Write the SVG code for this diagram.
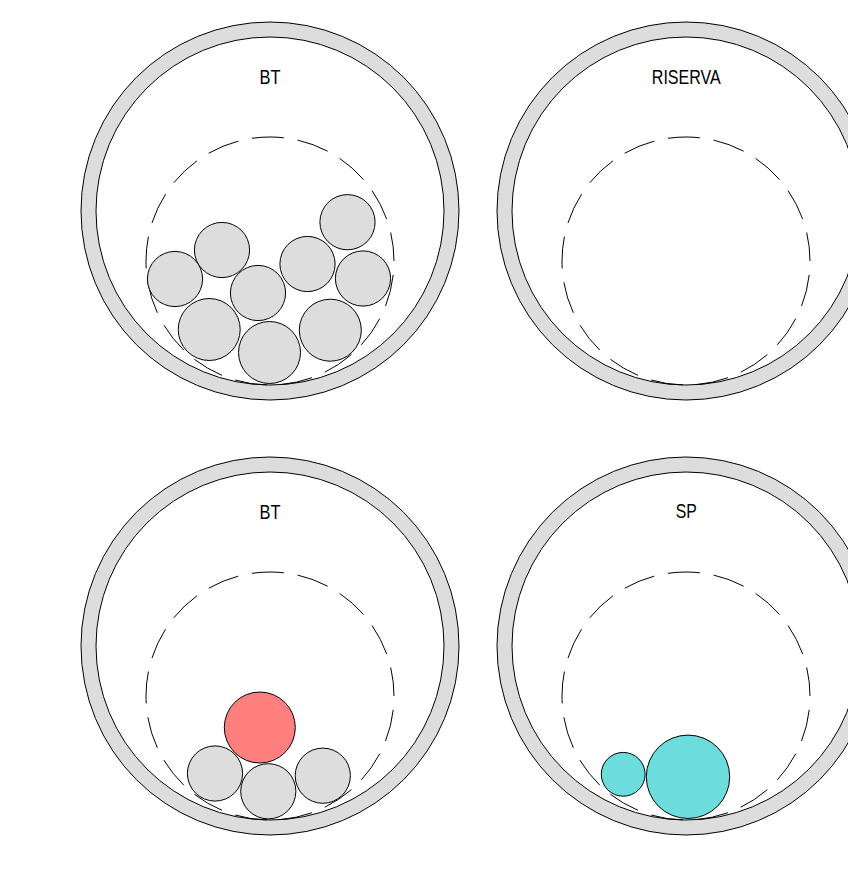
<svg xmlns="http://www.w3.org/2000/svg" width="848" height="890" viewBox="0 0 848 890">
<style>
.ring{fill:#dddddd;stroke:#000;stroke-width:1;fill-rule:evenodd}
.dash{fill:none;stroke:#000;stroke-width:1;stroke-dasharray:32 14;stroke-dashoffset:32}
.c{fill:#dddddd;stroke:#000;stroke-width:1}
.red{fill:#ff7f7f;stroke:#000;stroke-width:1}
.cyan{fill:#6cdcdc;stroke:#000;stroke-width:1}
.lbl{font-family:"Liberation Sans",Arial,sans-serif;font-size:21px;text-anchor:middle;fill:#000}
</style>
<rect width="848" height="890" fill="#fff"/>
<g id="pipe-tl">
<path class="ring" d="M81,211a189,189 0 1,0 378,0a189,189 0 1,0 -378,0ZM96,211a174,174 0 1,0 348,0a174,174 0 1,0 -348,0Z"/>
<circle class="dash" cx="270" cy="261" r="124"/>
<text class="lbl" x="270" y="83.5" textLength="21" lengthAdjust="spacingAndGlyphs">BT</text>
<circle class="c" cx="175" cy="279" r="27.6"/>
<circle class="c" cx="222" cy="250" r="27.6"/>
<circle class="c" cx="258" cy="293" r="27.6"/>
<circle class="c" cx="209.2" cy="329.5" r="31"/>
<circle class="c" cx="269.5" cy="352.5" r="31"/>
<circle class="c" cx="307.5" cy="264" r="27.6"/>
<circle class="c" cx="347.5" cy="222.2" r="27.6"/>
<circle class="c" cx="363" cy="278.5" r="27.6"/>
<circle class="c" cx="330.3" cy="330.2" r="31"/>
</g>
<g id="pipe-tr">
<path class="ring" d="M497,211a189,189 0 1,0 378,0a189,189 0 1,0 -378,0ZM512,211a174,174 0 1,0 348,0a174,174 0 1,0 -348,0Z"/>
<circle class="dash" cx="686" cy="261" r="124"/>
<text class="lbl" x="686.3" y="83.5" textLength="69" lengthAdjust="spacingAndGlyphs">RISERVA</text>
</g>
<g id="pipe-bl">
<path class="ring" d="M81,646a189,189 0 1,0 378,0a189,189 0 1,0 -378,0ZM96,646a174,174 0 1,0 348,0a174,174 0 1,0 -348,0Z"/>
<circle class="dash" cx="270" cy="696" r="124"/>
<text class="lbl" x="270" y="518.5" textLength="21" lengthAdjust="spacingAndGlyphs">BT</text>
<circle class="red" cx="259.8" cy="727.5" r="35.5"/>
<circle class="c" cx="215" cy="773.5" r="27.6"/>
<circle class="c" cx="268.3" cy="791.3" r="27.6"/>
<circle class="c" cx="322.8" cy="775.7" r="27.6"/>
</g>
<g id="pipe-br">
<path class="ring" d="M497,646a189,189 0 1,0 378,0a189,189 0 1,0 -378,0ZM512,646a174,174 0 1,0 348,0a174,174 0 1,0 -348,0Z"/>
<circle class="dash" cx="686" cy="696" r="124"/>
<text class="lbl" x="686.2" y="518.4" textLength="21" lengthAdjust="spacingAndGlyphs">SP</text>
<circle class="cyan" cx="623.2" cy="774.3" r="21.9"/>
<circle class="cyan" cx="688" cy="776.8" r="41.7"/>
</g>
<g id="connectors"/>
</svg>
